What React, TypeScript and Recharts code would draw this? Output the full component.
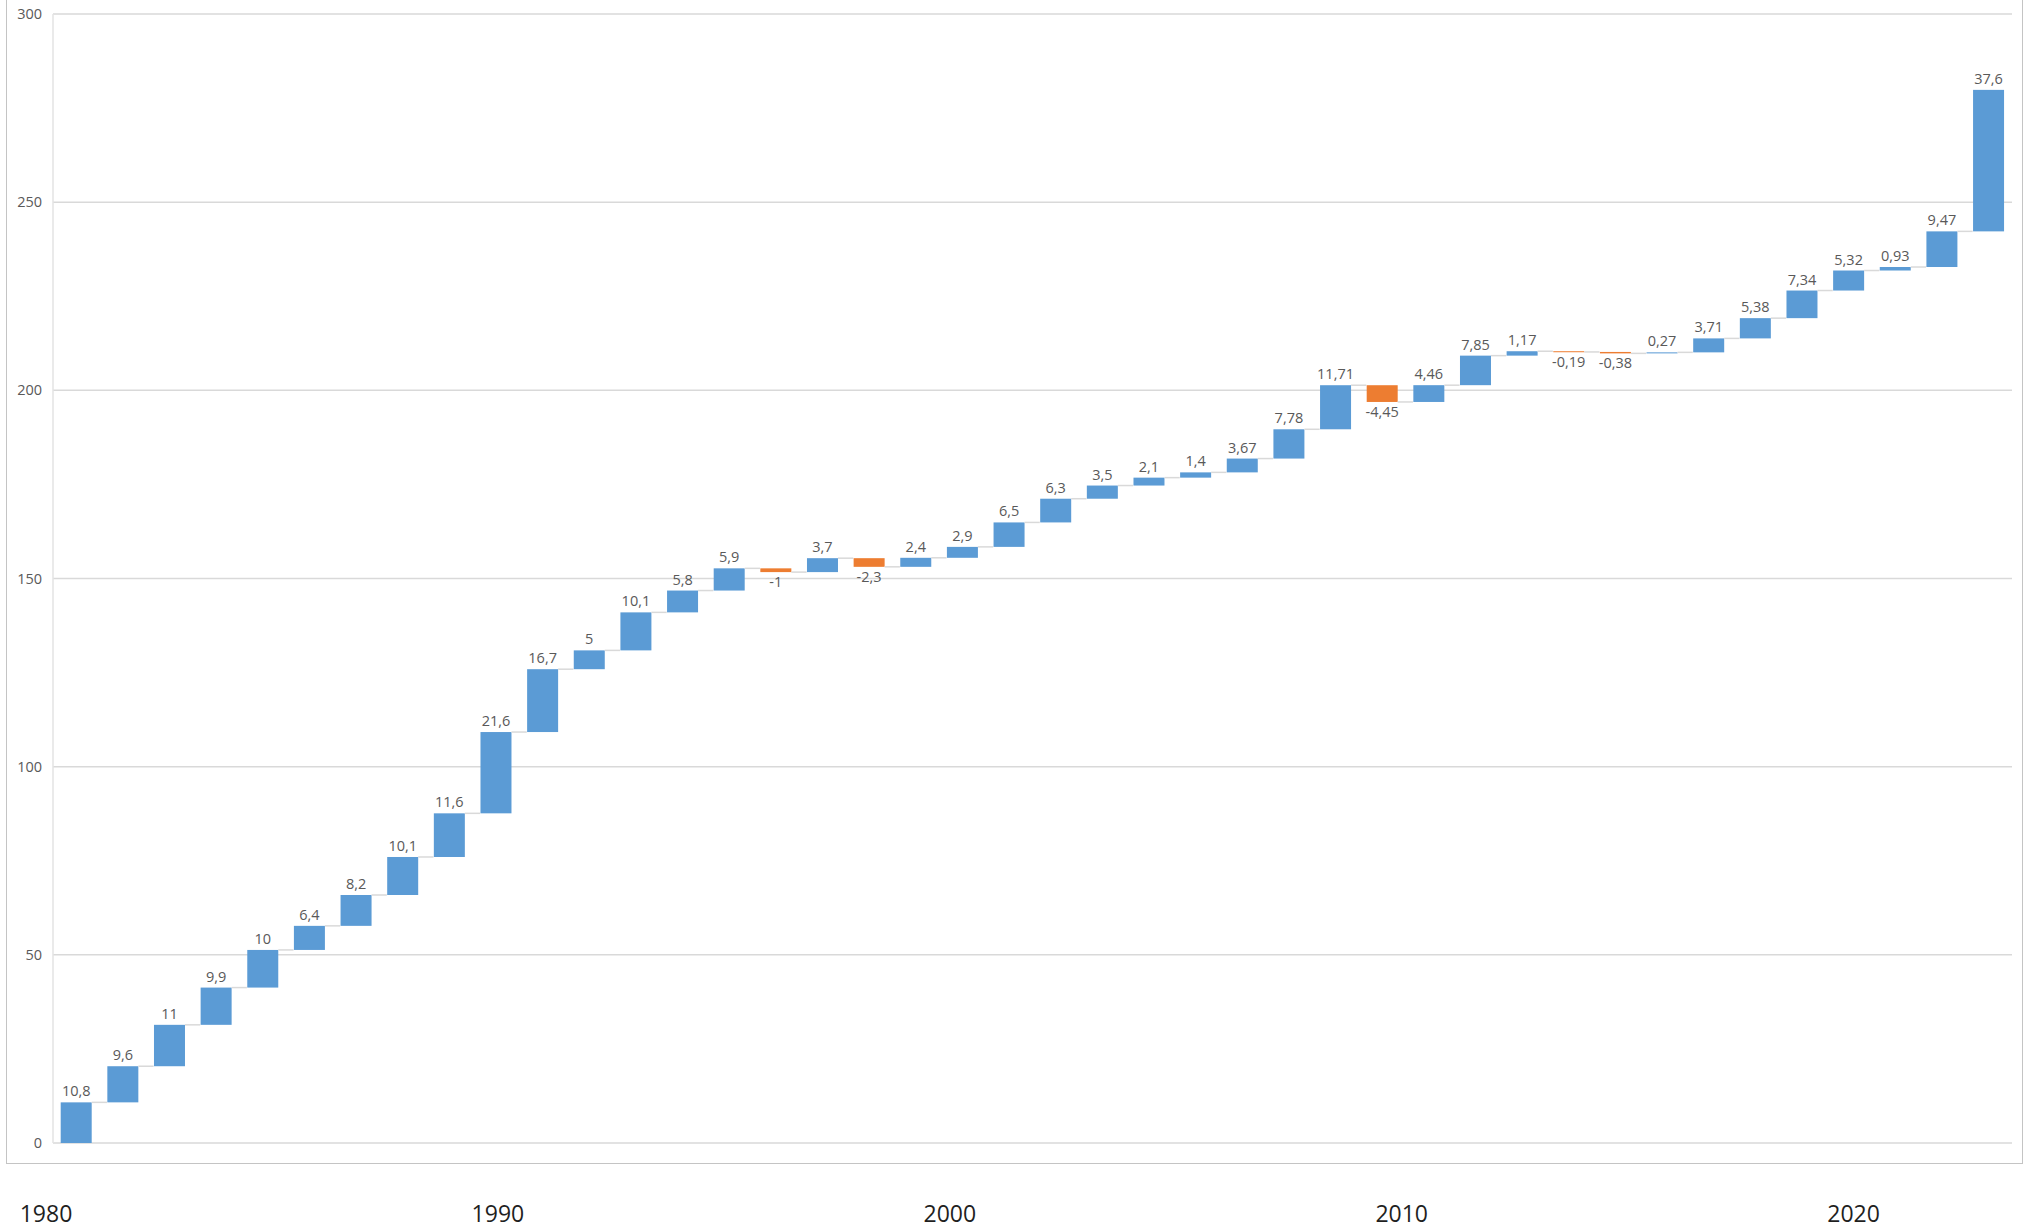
import { Bar, CartesianGrid, Cell, ComposedChart, LabelList, XAxis, YAxis } from "recharts";

const years = [
  "1981", "1982", "1983", "1984", "1985", "1986", "1987", "1988", "1989", "1990",
  "1991", "1992", "1993", "1994", "1995", "1996", "1997", "1998", "1999", "2000",
  "2001", "2002", "2003", "2004", "2005", "2006", "2007", "2008", "2009", "2010",
  "2011", "2012", "2013", "2014", "2015", "2016", "2017", "2018", "2019", "2020",
  "2021", "2022",
];

const changes = [
  10.8, 9.6, 11, 9.9, 10, 6.4, 8.2, 10.1, 11.6, 21.6,
  16.7, 5, 10.1, 5.8, 5.9, -1, 3.7, -2.3, 2.4, 2.9,
  6.5, 6.3, 3.5, 2.1, 1.4, 3.67, 7.78, 11.71, -4.45, 4.46,
  7.85, 1.17, -0.19, -0.38, 0.27, 3.71, 5.38, 7.34, 5.32, 0.93,
  9.47, 37.6,
];

const yTicks = [0, 50, 100, 150, 200, 250, 300];
const yearTicks = [1980, 1990, 2000, 2010, 2020];

const UP_COLOR = "#5b9bd5";
const DOWN_COLOR = "#ed7d31";
const LINE_COLOR = "#d9d9d9";
const LABEL_COLOR = "#595959";
const FONT = "'Open Sans', 'DejaVu Sans', sans-serif";

// half of the gap on each side of a bar, as share of the band
const CATEGORY_GAP = 0.165;

let running = 0;
const rows = changes.map((delta, i) => {
  const start = running;
  running = Math.round((running + delta) * 100) / 100;
  return {
    year: years[i],
    yearNum: Number(years[i]),
    delta,
    base: Math.min(start, running),
    size: Math.abs(delta),
  };
});

function fmt(v: number) {
  return String(v).replace(".", ",");
}

function StepBar(props: any) {
  const { x, y, width, height, fill, index } = props;
  const row = rows[index];
  const endY = row.delta >= 0 ? y : y + height;
  const gap = (width * 2 * CATEGORY_GAP) / (1 - 2 * CATEGORY_GAP);
  return (
    <g>
      <rect x={x} y={y} width={width} height={Math.max(height, 1)} fill={fill} />
      {index < rows.length - 1 && (
        <line x1={x + width} x2={x + width + gap} y1={endY} y2={endY} stroke={LINE_COLOR} strokeWidth={1.5} />
      )}
    </g>
  );
}

function ValueLabel(props: any) {
  const { x, y, width, height, index } = props;
  const delta = rows[index].delta;
  const up = delta >= 0;
  return (
    <text
      x={x + width / 2}
      y={up ? y - 6 : y + height + 15}
      textAnchor="middle"
      fontSize={14.5}
      fontFamily={FONT}
      fill={LABEL_COLOR}
    >
      {fmt(delta)}
    </text>
  );
}

function YearTick(props: any) {
  const { x, y, payload } = props;
  return (
    <text x={x - 7} y={y} dy={17} textAnchor="middle" fontSize={23} fontFamily={FONT} fill="#1f1f1f">
      {payload.value}
    </text>
  );
}

export default function App() {
  return (
    <div style={{ position: "absolute", left: 0, top: 0, width: 2028, height: 1229, background: "#fff" }}>
      <div
        style={{
          position: "absolute",
          left: 6,
          top: -1,
          width: 2017,
          height: 1165,
          border: "1.5px solid #c4c4c4",
          boxSizing: "border-box",
        }}
      />
      <div style={{ position: "absolute", left: 0, top: 0 }}>
        <ComposedChart
          width={2028}
          height={1229}
          data={rows}
          margin={{ top: 14, right: 16, bottom: 0, left: 0 }}
          barCategoryGap={`${CATEGORY_GAP * 100}%`}
        >
          <CartesianGrid vertical={false} stroke={LINE_COLOR} strokeWidth={1.5} />
          <XAxis xAxisId="cat" dataKey="year" hide height={0} />
          <XAxis
            xAxisId="yr"
            dataKey="yearNum"
            type="number"
            domain={[1980, 2023.35]}
            ticks={yearTicks}
            allowDataOverflow
            interval={0}
            height={86}
            axisLine={false}
            tickLine={false}
            tickSize={0}
            tickMargin={62}
            tick={<YearTick />}
          />
          <YAxis
            width={53}
            domain={[0, 300]}
            ticks={yTicks}
            axisLine={{ stroke: "#e3e3e3", strokeWidth: 1.5 }}
            tickLine={false}
            tickMargin={5}
            tick={{ fontSize: 14.5, fill: LABEL_COLOR, fontFamily: FONT }}
          />
          <Bar xAxisId="cat" dataKey="base" stackId="w" fill="transparent" isAnimationActive={false} />
          <Bar xAxisId="cat" dataKey="size" stackId="w" shape={<StepBar />} isAnimationActive={false}>
            {rows.map((r) => (
              <Cell key={r.year} fill={r.delta >= 0 ? UP_COLOR : DOWN_COLOR} />
            ))}
            <LabelList dataKey="delta" content={<ValueLabel />} />
          </Bar>
        </ComposedChart>
      </div>
    </div>
  );
}
